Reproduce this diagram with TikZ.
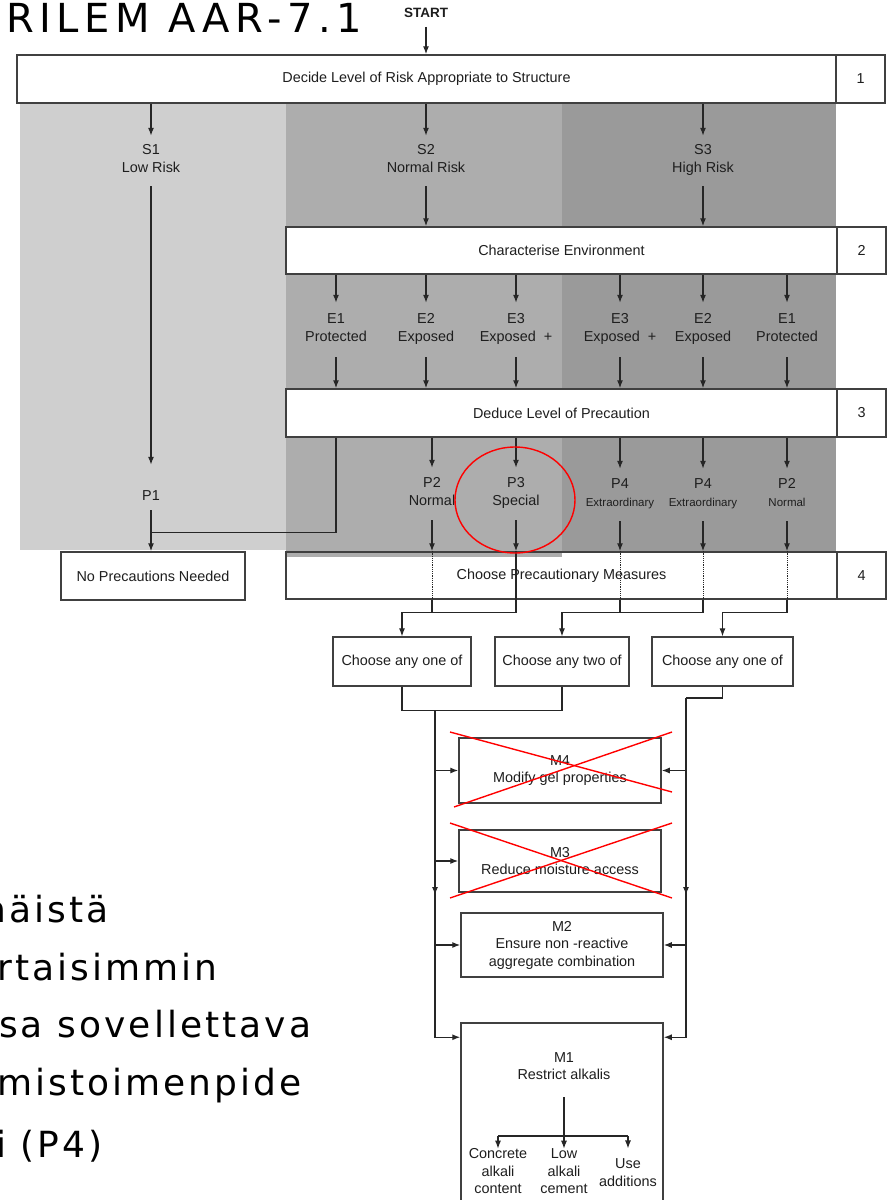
\documentclass[tikz,border=0pt]{standalone}
\usepackage{fontspec}
\usetikzlibrary{arrows.meta, calc}
\newfontfamily\chartfont{Liberation Sans}
\newfontfamily\slidefont[LetterSpace=8.5]{DejaVu Sans}
\newfontfamily\titlefont[LetterSpace=14]{DejaVu Sans}
\definecolor{lowgray}{HTML}{CFCFCF}
\definecolor{midgray}{HTML}{ADADAD}
\definecolor{highgray}{HTML}{9A9A9A}
\definecolor{inkgray}{HTML}{1E1E1E}
\tikzset{
	stagebox/.style={draw=black!75, line width=1.5pt, fill=white, inner sep=0pt, text=inkgray, font=\chartfont\fontsize{14.4}{17.5}\selectfont},
	pickbox/.style={stagebox, line width=1.3pt, minimum width=#1, minimum height=49pt},
	mbox/.style={stagebox, align=center, minimum width=202pt},
	lbl/.style={align=center, inner sep=1pt, text=inkgray, font=\chartfont\fontsize{14.4}{17.5}\selectfont,
		execute at begin node=\strut, execute at end node=\strut},
	arr/.style={-{Latex[length=8pt,width=6pt]}, line width=1.2pt, draw=black!85},
	link/.style={line width=1.2pt, draw=black!85},
	cross/.style={red, line width=1.4pt},
	slide/.style={anchor=base west, inner sep=0pt, font=\slidefont\fontsize{36}{43}\selectfont}
}

\begin{document}
\begin{tikzpicture}[x=1pt, y=-1pt]
% page
	\useasboundingbox (0,0) rectangle (889,1200);
	\fill[white] (0,0) rectangle (889,1200);
% draw shaded risk bands
	\fill[lowgray] (20,104) rectangle (286,550);
	\fill[midgray] (286,104) rectangle (562,557);
	\fill[highgray] (562,104) rectangle (836,552);
% slide text
	\node[slide, font=\titlefont\fontsize{40}{48}\selectfont] (title) at (6,32) {RILEM AAR-7.1};
	\node[slide] (fin1) at (-17,922) {näistä};
	\node[slide] (fin2) at (-3,980) {rtaisimmin};
	\node[slide] (fin3) at (-1,1037) {sa sovellettava};
	\node[slide] (fin4) at (-3,1095) {mistoimenpide};
	\node[slide] (fin5) at (-4,1157) {i (P4)};
% stage boxes
	\node[inner sep=1pt, text=inkgray, font=\chartfont\bfseries\fontsize{13.5}{16}\selectfont] (start) at (426,13) {START};
	\node[stagebox, minimum width=819pt, minimum height=48pt] (decide) at (426.5,79) {Decide Level of Risk Appropriate to Structure\hspace{18pt}};
	\node[stagebox, minimum width=49pt, minimum height=48pt] (n1) at (860.5,79) {1};
	\node[stagebox, minimum width=551pt, minimum height=47pt] (charenv) at (561.5,250.5) {Characterise Environment};
	\node[stagebox, minimum width=49pt, minimum height=47pt] (n2) at (861.5,250.5) {2};
	\node[stagebox, minimum width=551pt, minimum height=48pt] (deduce) at (561.5,413) {Deduce Level of Precaution};
	\node[stagebox, minimum width=49pt, minimum height=48pt] (n3) at (861.5,413) {3};
	\node[stagebox, minimum width=551pt, minimum height=47pt] (choose) at (561.5,575.5) {Choose Precautionary Measures};
	\node[stagebox, minimum width=49pt, minimum height=47pt] (n4) at (861.5,575.5) {4};
	\node[stagebox, minimum width=184pt, minimum height=48pt] (nopre) at (153,576) {No Precautions Needed};
	\fill[midgray] (287,553) rectangle (562,557);
% risk, exposure and precaution labels
	\node[lbl, minimum height=50pt] (s1) at (151,161) {S1\\Low Risk};
	\node[lbl, minimum height=50pt] (s2) at (426,161) {S2\\Normal Risk};
	\node[lbl, minimum height=50pt] (s3) at (703,161) {S3\\High Risk};
	\node[lbl, minimum height=54pt] (e1) at (336,330) {E1\\Protected};
	\node[lbl, minimum height=54pt] (e2) at (426,330) {E2\\Exposed};
	\node[lbl, minimum height=54pt] (e3) at (516,330) {E3\\Exposed\ \ +};
	\node[lbl, minimum height=54pt] (e3b) at (620,330) {E3\\Exposed\ \ +};
	\node[lbl, minimum height=54pt] (e2b) at (703,330) {E2\\Exposed};
	\node[lbl, minimum height=54pt] (e1b) at (787,330) {E1\\Protected};
	\node[lbl, minimum height=26pt] (p1) at (151,497) {P1};
	\node[lbl, minimum height=52pt] (p2) at (432,494) {P2\\Normal};
	\node[lbl, minimum height=52pt] (p3) at (516,494) {P3\\Special};
	\node[lbl, minimum height=52pt] (p4a) at (620,495) {P4\\{\fontsize{11.5}{14}\selectfont Extraordinary}};
	\node[lbl, minimum height=52pt] (p4b) at (703,495) {P4\\{\fontsize{11.5}{14}\selectfont Extraordinary}};
	\node[lbl, minimum height=52pt] (p2b) at (787,495) {P2\\{\fontsize{11.5}{14}\selectfont Normal}};
% measure boxes
	\node[pickbox=138pt] (pick1) at (402,661.5) {Choose any one of};
	\node[pickbox=134pt] (pick2) at (562,661.5) {Choose any two of};
	\node[pickbox=141pt] (pick3) at (722.5,661.5) {Choose any one of};
	\node[mbox, minimum height=65pt] (m4) at (560,770.5) {M4\\Modify gel properties};
	\node[mbox, minimum height=62pt] (m3) at (560,861) {M3\\Reduce moisture access};
	\node[mbox, minimum height=64pt] (m2) at (562,945) {M2\\Ensure non -reactive\\aggregate combination};
	\node[mbox, minimum height=192pt] (m1) at (562,1119) {};
	\node[lbl] (m1text) at (564,1068.5) {M1\\Restrict alkalis};
	\node[lbl, inner sep=0pt] (conc) at (498,1174) {Concrete\\alkali\\content};
	\node[lbl, inner sep=0pt] (low) at (564,1174) {Low\\alkali\\cement};
	\node[lbl, inner sep=0pt] (addit) at (628,1175) {Use\\additions};
% arrows down the stages
	\draw[arr, shorten <=8pt] (start) -- (decide.north -| start);
	\foreach \s in {s1,s2,s3} \draw[arr] (decide.south -| \s) -- (\s);
	\draw[arr] (s2) -- (charenv.north -| s2);
	\draw[arr] (s3) -- (charenv.north -| s3);
	\foreach \e in {e1,e2,e3,e3b,e2b,e1b} {
		\draw[arr] (charenv.south -| \e) -- (\e);
		\draw[arr] (\e) -- (deduce.north -| \e);
	}
	\foreach \p in {p2,p3,p4a,p4b,p2b} {
		\draw[arr] (deduce.south -| \p) -- (\p);
		\draw[arr] (\p) -- (choose.north -| \p);
	}
	\draw[arr, shorten >=19pt] (s1) -- (p1);
	\draw[arr] (p1) -- (nopre.north -| p1);
	\draw[link] (deduce.south -| e1) |- ($(p1.south)+(0,22)$);
% lines through box 4
	\foreach \p in {p2,p4a,p4b,p2b} \draw[link, densely dotted, line width=0.8pt] (choose.north -| \p) -- (choose.south -| \p);
	\draw[link] (choose.north -| p3) -- (choose.south -| p3);
	\draw[link] (choose.south -| p2) -- ++(0,13);
	\draw[arr] (choose.south -| p3) -- ++(0,13) -| (pick1);
	\draw[link] (choose.south -| p4a) -- ++(0,13);
	\draw[arr] (choose.south -| p4b) -- ++(0,13) -| (pick2);
	\draw[arr] (choose.south -| p2b) -- ++(0,13) -| (pick3);
% buses to measures
	\coordinate (busL) at (435,710);
	\coordinate (busR) at (686,698);
	\draw[link] (pick1.south) -- ++(0,24) -| (pick2.south);
	\draw[link] (pick3.south) |- (busR);
	\draw[arr] (busL) |- ($(m1.north west)+(0,15)$);
	\draw[arr] (busR) |- ($(m1.north east)+(0,15)$);
	\draw[arr] (busL) -- ($(busL)+(0,185)$);
	\draw[arr] (busR) -- ($(busR)+(0,197)$);
	\draw[arr] (busL |- m4.west) -- (m4.west);
	\draw[arr] (busL |- m3.west) -- (m3.west);
	\draw[arr] (busL |- m2.west) -- (m2.west);
	\draw[arr] (busR |- m4.east) -- (m4.east);
	\draw[arr] (busR |- m2.east) -- (m2.east);
% restrict alkalis split
	\coordinate (split) at (564,1136);
	\draw[arr] ($(m1text.south)+(0,11)$) -- (low);
	\draw[link] (conc |- split) -- (addit |- split);
	\draw[arr] (conc |- split) -- (conc);
	\draw[arr, shorten >=10pt] (addit |- split) -- (addit);
% red marks
	\draw[cross] (515,500) ellipse [x radius=60, y radius=53];
	\draw[cross] (450,732) -- (672,792);
	\draw[cross] (454,807) -- (672,732);
	\draw[cross] (450,823) -- (672,898);
	\draw[cross] (450,898) -- (672,823);
\end{tikzpicture}
\end{document}
